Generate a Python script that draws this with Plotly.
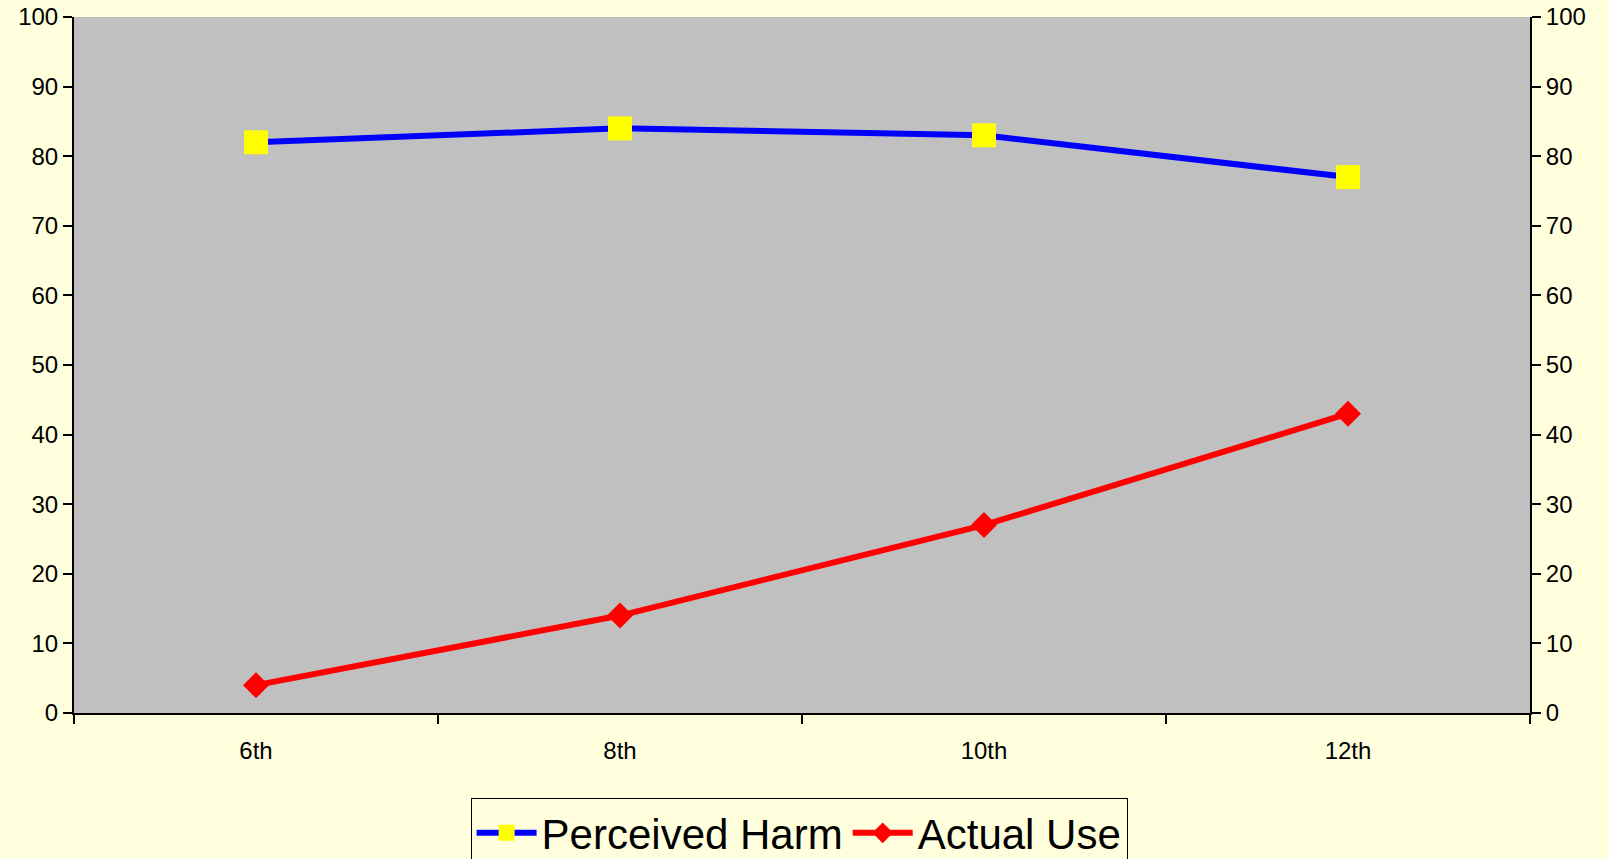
import plotly.graph_objects as go

grades = ["6th", "8th", "10th", "12th"]
perceived_harm = [82, 84, 83, 77]
actual_use = [4, 14, 27, 43]

BG = "#FFFFDD"
PLOT_BG = "#C0C0C0"
FONT = "Liberation Sans, Arial, sans-serif"

fig = go.Figure()

fig.add_trace(
    go.Scatter(
        x=grades,
        y=perceived_harm,
        name="Perceived Harm",
        mode="lines+markers",
        line=dict(color="#0000FF", width=6),
        marker=dict(symbol="square", size=24, color="#FFFF00", line=dict(width=0)),
    )
)

fig.add_trace(
    go.Scatter(
        x=grades,
        y=actual_use,
        name="Actual Use",
        mode="lines+markers",
        yaxis="y2",
        line=dict(color="#FF0000", width=6),
        marker=dict(symbol="diamond", size=20, color="#FF0000", line=dict(width=0)),
    )
)

axis_common = dict(
    range=[0, 100],
    dtick=10,
    ticks="outside",
    ticklen=9,
    tickwidth=2,
    tickcolor="black",
    showline=True,
    linecolor="black",
    linewidth=2,
    showgrid=False,
    zeroline=False,
    automargin=False,
    tickfont=dict(family=FONT, size=24, color="black"),
)

fig.update_layout(
    width=1609,
    height=859,
    paper_bgcolor=BG,
    plot_bgcolor=PLOT_BG,
    margin=dict(l=74, r=79, t=17, b=146),
    font=dict(family=FONT, color="black"),
    xaxis=dict(
        type="category",
        range=[-0.5, 3.5],
        tickson="boundaries",
        ticks="outside",
        ticklen=9,
        tickwidth=2,
        tickcolor="black",
        showline=True,
        linecolor="black",
        linewidth=2,
        showgrid=False,
        automargin=False,
        tickfont=dict(family=FONT, size=24, color="black"),
        ticklabelstandoff=15,
    ),
    yaxis=dict(**axis_common, side="left"),
    yaxis2=dict(**axis_common, side="right", overlaying="y"),
    legend=dict(
        orientation="h",
        x=0.498,
        xanchor="center",
        yref="container",
        y=0.071,
        yanchor="top",
        bgcolor=BG,
        bordercolor="black",
        borderwidth=1,
        font=dict(family=FONT, size=42, color="black"),
        itemwidth=60,
    ),
)

fig.write_html(
    "out.html",
    config={"displayModeBar": False},
    post_script="document.body.style.margin='0';document.body.style.overflow='hidden';",
)
